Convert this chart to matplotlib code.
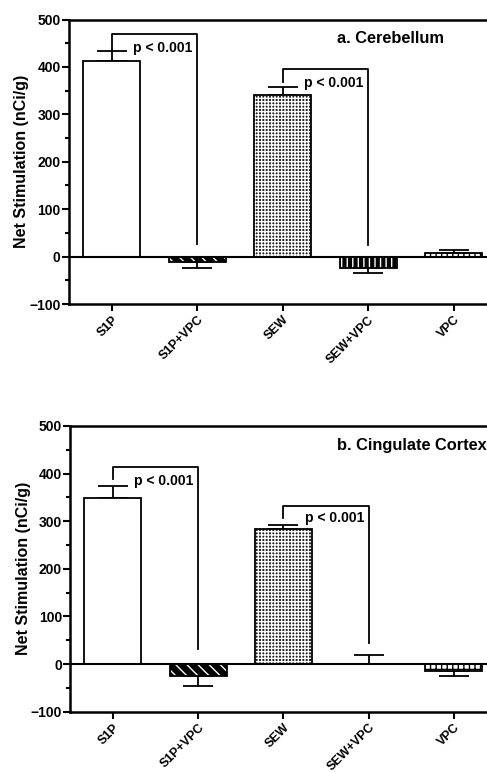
import numpy as np
import matplotlib
matplotlib.use("Agg")
import matplotlib.pyplot as plt
from matplotlib.ticker import MultipleLocator

plt.rcParams.update({"font.family": ["Liberation Sans", "DejaVu Sans"],
                     "font.weight": "bold", "hatch.linewidth": 1.0})

groups = ["S1P", "S1P+VPC", "SEW", "SEW+VPC", "VPC"]

# panel a: cerebellum
cer_mean = [412, -12, 340, -25, 7]
cer_err = [21, 13, 17, 10, 6]
# panel b: cingulate cortex
cin_mean = [348, -25, 284, 0, -15]
cin_err = [27, 21, 9, 20, 9]

# significance brackets: (left idx, right idx, top, left leg end, right leg end, label y)
cer_brackets = [(0, 1, 469, 433, 27, 440), (2, 3, 395, 369, 24, 367)]
cin_brackets = [(0, 1, 413, 389, 31, 384), (2, 3, 333, 307, 44, 306)]

titles = ["a. Cerebellum", "b. Cingulate Cortex"]

# fill, hatch colour, hatch
STYLE = [("white", "black", None),
         ("black", "white", "\\\\\\"),
         ("#1e1e1e", "white", "+++++"),
         ("black", "white", "|||"),
         ("white", "black", "+++")]


def draw_panel(ax, means, errs, brackets, title):
    x = np.arange(len(groups))
    for i, (m, e) in enumerate(zip(means, errs)):
        fc, hc, h = STYLE[i]
        ax.bar(x[i], m, width=0.67, color=fc, edgecolor=hc, hatch=h,
               linewidth=0, zorder=2)
        ax.bar(x[i], m, width=0.67, fill=False, edgecolor="black",
               linewidth=1.3, zorder=3)
        yerr = [[0], [e]] if m >= 0 else [[e], [0]]
        ax.errorbar(x[i], m, yerr=yerr, fmt="none", ecolor="black",
                    elinewidth=1.3, capsize=10.5, capthick=1.3, zorder=1)
    ax.axhline(0, color="black", lw=1.5, zorder=4)
    for a, b, top, lend, rend, ty in brackets:
        ax.plot([x[a], x[a], x[b], x[b]], [lend, top, top, rend],
                color="black", lw=1.3, zorder=4)
        ax.text(x[a] + 0.25, ty, "p < 0.001", fontsize=10,
                fontweight="bold", va="center", ha="left")
    ax.text(2.63, 459, title, fontsize=11.8, fontweight="bold",
            va="center", ha="left")
    ax.set_xlim(-0.5, 4.39)
    ax.set_ylim(-100, 500)
    ax.yaxis.set_major_locator(MultipleLocator(100))
    ax.yaxis.set_minor_locator(MultipleLocator(50))
    ax.set_xticks(x)
    ax.set_xticklabels(groups, rotation=45, ha="right", rotation_mode="anchor",
                       fontsize=9, fontweight="bold")
    ax.tick_params(axis="both", width=1.5, length=5)
    ax.tick_params(axis="y", labelsize=10, pad=1)
    ax.tick_params(axis="y", which="minor", width=1.5, length=3)
    ax.tick_params(axis="x", pad=2)
    for lab in ax.get_yticklabels():
        lab.set_fontweight("bold")
    ax.set_ylabel("Net Stimulation (nCi/g)", fontsize=11.5, fontweight="bold",
                  labelpad=0)
    ax.spines["right"].set_visible(False)
    for s in ("left", "top", "bottom"):
        ax.spines[s].set_linewidth(1.8)


fig = plt.figure(figsize=(4.87, 7.72), dpi=100)
ax1 = fig.add_axes([0.1417, 0.6062, 0.8583, 0.3685])
ax2 = fig.add_axes([0.1444, 0.0781, 0.8556, 0.3701])
draw_panel(ax1, cer_mean, cer_err, cer_brackets, titles[0])
draw_panel(ax2, cin_mean, cin_err, cin_brackets, titles[1])
fig.savefig("out.png", dpi=100)
